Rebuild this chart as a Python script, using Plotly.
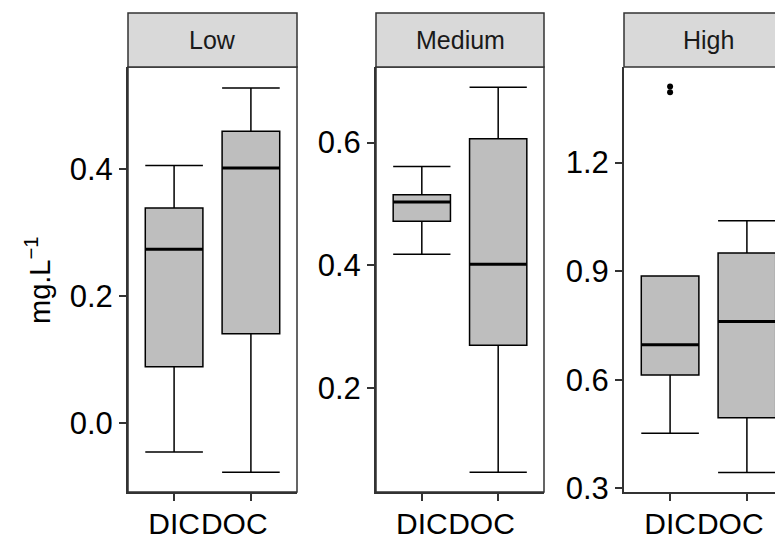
import plotly.graph_objects as go

categories = ["DIC", "DOC"]
levels = ["Low", "Medium", "High"]

# five-number summaries per level: [DIC, DOC]
low_lower = [-0.045, -0.077]
low_q1 = [0.089, 0.141]
low_median = [0.274, 0.402]
low_q3 = [0.339, 0.460]
low_upper = [0.406, 0.528]

medium_lower = [0.418, 0.063]
medium_q1 = [0.472, 0.270]
medium_median = [0.503, 0.402]
medium_q3 = [0.515, 0.606]
medium_upper = [0.561, 0.690]

high_lower = [0.452, 0.344]
high_q1 = [0.613, 0.495]
high_median = [0.697, 0.761]
high_q3 = [0.887, 0.950]
high_upper = [0.887, 1.039]

high_dic_outliers = [1.410, 1.394]

low_ticks = [0.0, 0.2, 0.4]
medium_ticks = [0.2, 0.4, 0.6]
high_ticks = [0.3, 0.6, 0.9, 1.2]

# page body has an 8px margin; figure is sized so it ends at the window edge
OFF = 8
W, H = 783 - OFF, 539 - OFF
FONT = "Liberation Sans, Arial, sans-serif"
DARK = "#333333"


def px(v):
    return v - OFF


panels = [
    dict(name="Low", lo=low_lower, q1=low_q1, med=low_median, q3=low_q3, hi=low_upper,
         ticks=low_ticks, yr=[-0.108, 0.561], px=(128, 297), xr=[0.4, 2.6], full=True),
    dict(name="Medium", lo=medium_lower, q1=medium_q1, med=medium_median, q3=medium_q3, hi=medium_upper,
         ticks=medium_ticks, yr=[0.031, 0.723], px=(376, 544), xr=[0.4, 2.6], full=True),
    dict(name="High", lo=high_lower, q1=high_q1, med=high_median, q3=high_q3, hi=high_upper,
         ticks=high_ticks, yr=[0.290, 1.464], px=(624, 783), xr=[0.4, 2.47], full=False),
]

ydom = [1 - px(492) / H, 1 - px(67) / H]
strip_top = 1 - px(13) / H
BOXW = 0.75
NB = "\u00a0"

fig = go.Figure()
shapes = []
annotations = []
layout_axes = {}

for i, p in enumerate(panels):
    n = i + 1
    xa = "x" if n == 1 else f"x{n}"
    ya = "y" if n == 1 else f"y{n}"
    for j, cat in enumerate(categories):
        xpos = j + 1
        fig.add_trace(go.Box(
            x=[xpos], q1=[p["q1"][j]], median=[p["med"][j]], q3=[p["q3"][j]],
            lowerfence=[p["lo"][j]], upperfence=[p["hi"][j]],
            width=BOXW, whiskerwidth=1, boxpoints=False,
            fillcolor="#BEBEBE", line=dict(color="black", width=1.5),
            xaxis=xa, yaxis=ya, showlegend=False, hoverinfo="skip"))
        fig.add_trace(go.Scatter(
            x=[xpos - BOXW / 2, xpos + BOXW / 2], y=[p["med"][j]] * 2,
            mode="lines", line=dict(color="black", width=3),
            xaxis=xa, yaxis=ya, showlegend=False, hoverinfo="skip"))
    if p["name"] == "High":
        fig.add_trace(go.Scatter(
            x=[1] * len(high_dic_outliers), y=high_dic_outliers, mode="markers",
            marker=dict(color="black", size=6), xaxis=xa, yaxis=ya,
            showlegend=False, hoverinfo="skip"))

    x0, x1 = px(p["px"][0]), px(p["px"][1])
    axis_style = dict(showline=True, linecolor=DARK, linewidth=2, ticks="outside",
                      ticklen=7, tickwidth=2, tickcolor=DARK, showgrid=False,
                      zeroline=False, automargin=False, fixedrange=True)
    layout_axes["xaxis" if n == 1 else f"xaxis{n}"] = dict(
        domain=[x0 / W, x1 / W], range=p["xr"], tickvals=[1, 2],
        ticktext=[categories[0], categories[1] + NB * 4],
        tickangle=0, ticklabeloverflow="allow", ticklabelstandoff=-3,
        anchor=ya, tickfont=dict(size=30, color="black", family=FONT), **axis_style)
    layout_axes["yaxis" if n == 1 else f"yaxis{n}"] = dict(
        domain=ydom, range=p["yr"], tickvals=p["ticks"],
        ticktext=[f"{t:.1f}" for t in p["ticks"]],
        anchor=xa, tickfont=dict(size=31, color="black", family=FONT), **axis_style)

    frac = 1.0 if p["full"] else 169 / (x1 - x0)
    if p["full"]:
        shapes.append(dict(type="rect", xref=f"{xa} domain", yref="paper",
                           x0=0, x1=1, y0=ydom[0], y1=ydom[1],
                           line=dict(color=DARK, width=1.5), fillcolor="rgba(0,0,0,0)", layer="above"))
    shapes.append(dict(type="rect", xref=f"{xa} domain", yref="paper",
                       x0=0, x1=frac, y0=ydom[1], y1=strip_top,
                       line=dict(color=DARK, width=1.5), fillcolor="#D9D9D9", layer="above"))
    annotations.append(dict(text=p["name"], xref=f"{xa} domain", yref="paper",
                            x=0.5 * frac, y=(ydom[1] + strip_top) / 2, showarrow=False,
                            xanchor="center", yanchor="middle",
                            font=dict(size=25, color="#1A1A1A", family=FONT)))

annotations.append(dict(text="mg.L<sup>\u22121</sup>", xref="paper", yref="paper",
                        x=px(38) / W, y=1 - px(280) / H, textangle=-90, showarrow=False,
                        xanchor="center", yanchor="middle",
                        font=dict(size=29, color="black", family=FONT)))

fig.update_layout(
    width=W, height=H, margin=dict(l=0, r=0, t=0, b=0),
    paper_bgcolor="white", plot_bgcolor="white",
    shapes=shapes, annotations=annotations, showlegend=False,
    font=dict(family=FONT, color="black"),
    **layout_axes)

fig.write_html("out.html")
